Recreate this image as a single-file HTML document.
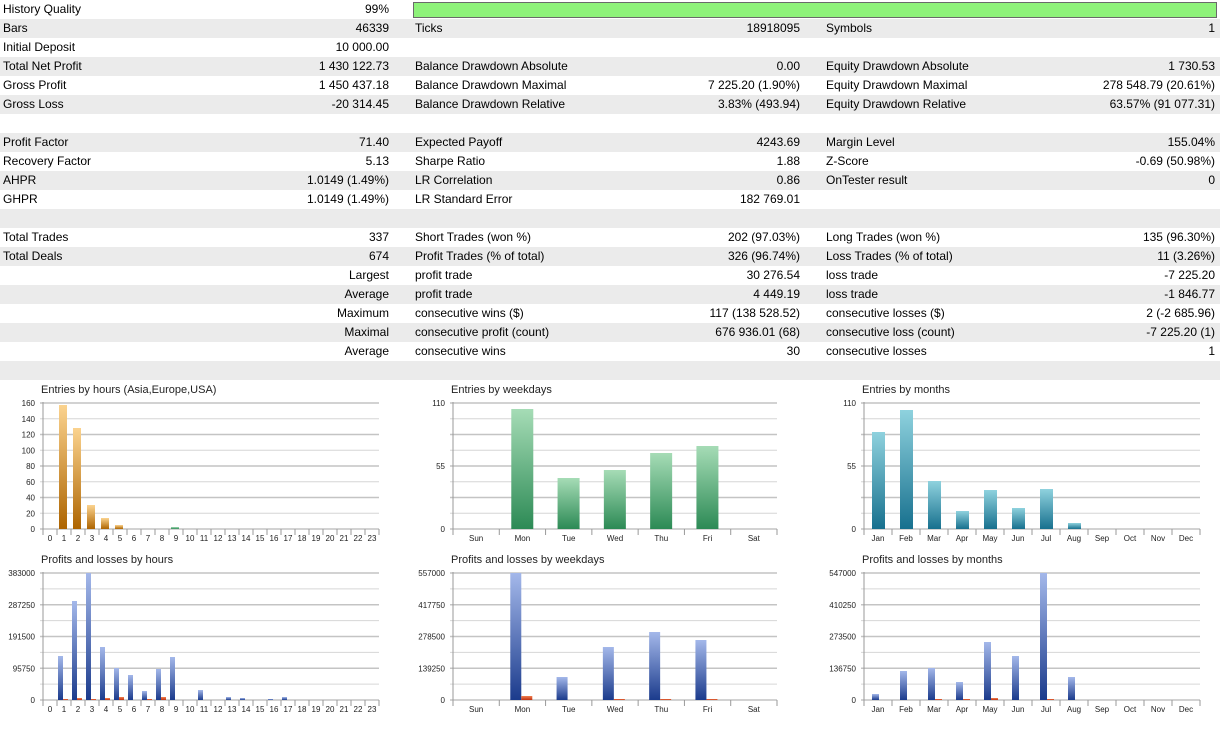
<!DOCTYPE html>
<html><head><meta charset="utf-8"><style>
body{margin:0;width:1220px;height:733px;background:#fff;font-family:"Liberation Sans",sans-serif;font-size:12px;color:#000;overflow:hidden;position:relative}
table{border-collapse:collapse;width:1220px;position:absolute;top:0;left:0}
td{height:19px;padding:0;white-space:nowrap;line-height:19px}
tr:nth-child(even){background:#ebebeb}
.l1{padding-left:3px;width:200px}.v1{text-align:right;width:186px;padding-right:2px}
.l2{padding-left:24px;width:200px}.v2{text-align:right;width:185px}
.l3{padding-left:26px;width:200px}.v3{text-align:right;padding-right:5px}
.hq{position:absolute;left:413px;top:2px;width:802px;height:14px;background:#8ef27a;border:1px solid #6a6a6a}
svg{position:absolute;left:0;top:0}
</style></head><body>
<table>
<tr><td class="l1">History Quality</td><td class="v1">99%</td><td colspan="4"></td></tr>
<tr><td class="l1">Bars</td><td class="v1">46339</td><td class="l2">Ticks</td><td class="v2">18918095</td><td class="l3">Symbols</td><td class="v3">1</td></tr>
<tr><td class="l1">Initial Deposit</td><td class="v1">10 000.00</td><td></td><td></td><td></td><td></td></tr>
<tr><td class="l1">Total Net Profit</td><td class="v1">1 430 122.73</td><td class="l2">Balance Drawdown Absolute</td><td class="v2">0.00</td><td class="l3">Equity Drawdown Absolute</td><td class="v3">1 730.53</td></tr>
<tr><td class="l1">Gross Profit</td><td class="v1">1 450 437.18</td><td class="l2">Balance Drawdown Maximal</td><td class="v2">7 225.20 (1.90%)</td><td class="l3">Equity Drawdown Maximal</td><td class="v3">278 548.79 (20.61%)</td></tr>
<tr><td class="l1">Gross Loss</td><td class="v1">-20 314.45</td><td class="l2">Balance Drawdown Relative</td><td class="v2">3.83% (493.94)</td><td class="l3">Equity Drawdown Relative</td><td class="v3">63.57% (91 077.31)</td></tr>
<tr><td colspan="6"></td></tr>
<tr><td class="l1">Profit Factor</td><td class="v1">71.40</td><td class="l2">Expected Payoff</td><td class="v2">4243.69</td><td class="l3">Margin Level</td><td class="v3">155.04%</td></tr>
<tr><td class="l1">Recovery Factor</td><td class="v1">5.13</td><td class="l2">Sharpe Ratio</td><td class="v2">1.88</td><td class="l3">Z-Score</td><td class="v3">-0.69 (50.98%)</td></tr>
<tr><td class="l1">AHPR</td><td class="v1">1.0149 (1.49%)</td><td class="l2">LR Correlation</td><td class="v2">0.86</td><td class="l3">OnTester result</td><td class="v3">0</td></tr>
<tr><td class="l1">GHPR</td><td class="v1">1.0149 (1.49%)</td><td class="l2">LR Standard Error</td><td class="v2">182 769.01</td><td></td><td></td></tr>
<tr><td colspan="6"></td></tr>
<tr><td class="l1">Total Trades</td><td class="v1">337</td><td class="l2">Short Trades (won %)</td><td class="v2">202 (97.03%)</td><td class="l3">Long Trades (won %)</td><td class="v3">135 (96.30%)</td></tr>
<tr><td class="l1">Total Deals</td><td class="v1">674</td><td class="l2">Profit Trades (% of total)</td><td class="v2">326 (96.74%)</td><td class="l3">Loss Trades (% of total)</td><td class="v3">11 (3.26%)</td></tr>
<tr><td class="l1"></td><td class="v1">Largest</td><td class="l2">profit trade</td><td class="v2">30 276.54</td><td class="l3">loss trade</td><td class="v3">-7 225.20</td></tr>
<tr><td class="l1"></td><td class="v1">Average</td><td class="l2">profit trade</td><td class="v2">4 449.19</td><td class="l3">loss trade</td><td class="v3">-1 846.77</td></tr>
<tr><td class="l1"></td><td class="v1">Maximum</td><td class="l2">consecutive wins ($)</td><td class="v2">117 (138 528.52)</td><td class="l3">consecutive losses ($)</td><td class="v3">2 (-2 685.96)</td></tr>
<tr><td class="l1"></td><td class="v1">Maximal</td><td class="l2">consecutive profit (count)</td><td class="v2">676 936.01 (68)</td><td class="l3">consecutive loss (count)</td><td class="v3">-7 225.20 (1)</td></tr>
<tr><td class="l1"></td><td class="v1">Average</td><td class="l2">consecutive wins</td><td class="v2">30</td><td class="l3">consecutive losses</td><td class="v3">1</td></tr>
<tr><td colspan="6"></td></tr>
</table>
<div class="hq"></div>
<svg id="s" width="1220" height="733" xmlns="http://www.w3.org/2000/svg">
<defs>
<linearGradient id="go" x1="0" y1="0" x2="0" y2="1"><stop offset="0" stop-color="#fbd38f"/><stop offset="1" stop-color="#ad6400"/></linearGradient>
<linearGradient id="gg" x1="0" y1="0" x2="0" y2="1"><stop offset="0" stop-color="#a6dcb6"/><stop offset="1" stop-color="#2c8a55"/></linearGradient>
<linearGradient id="gt" x1="0" y1="0" x2="0" y2="1"><stop offset="0" stop-color="#8fd2de"/><stop offset="1" stop-color="#17708e"/></linearGradient>
<linearGradient id="gb" x1="0" y1="0" x2="0" y2="1"><stop offset="0" stop-color="#a4b8ea"/><stop offset="1" stop-color="#1b3b8c"/></linearGradient>
<linearGradient id="gr" x1="0" y1="0" x2="0" y2="1"><stop offset="0" stop-color="#f08050"/><stop offset="1" stop-color="#c03010"/></linearGradient>
</defs>
</svg>
<script>
var s=document.getElementById('s'),h='';
function t(x,y,str,sz,anchor){h+='<text x="'+x+'" y="'+y+'" font-size="'+sz+'" font-family="Liberation Sans,sans-serif" text-anchor="'+(anchor||'start')+'" fill="#222">'+str+'</text>';}
function chart(o){
 var x0=o.x0,x1=o.x1,top=o.top,bot=o.bot,n=o.cats.length,w=(x1-x0)/n;
 t(o.x0-2,o.top-10,o.title,11);
 for(var i=0;i<=8;i++){var y=bot-(bot-top)*i/8;h+='<line x1="'+(x0-3)+'" x2="'+x1+'" y1="'+y+'" y2="'+y+'" stroke="'+(i%2==0||o.all?'#c4c4c4':'#d6d6d6')+'" stroke-width="'+(i%2==0?1.5:1)+'"/>';}
 o.labels.forEach(function(l,k){var y=bot-(bot-top)*k/(o.labels.length-1);t(x0-8,y+3,l,8,'end');});
 h+='<line x1="'+x0+'" x2="'+x0+'" y1="'+(top-1)+'" y2="'+(bot+6)+'" stroke="#999"/>';
 for(var i=0;i<n;i++){var xs=x0+w*i;h+='<line x1="'+(xs+w)+'" x2="'+(xs+w)+'" y1="'+bot+'" y2="'+(bot+6)+'" stroke="#999"/>';t(xs+w/2,bot+12,o.cats[i],8,'middle');}
 o.bars.forEach(function(b){var xs=x0+w*b[0]+o.off+(b[3]||0),hh=b[1];if(hh>0)h+='<rect x="'+xs+'" y="'+(bot-hh)+'" width="'+o.bw+'" height="'+hh+'" fill="url(#'+b[2]+')" stroke-width="0"/>';});
}
var hrs=[];for(var i=0;i<24;i++)hrs.push(i);
chart({x0:43,x1:379,top:403,bot:529,cats:hrs,title:'Entries by hours (Asia,Europe,USA)',labels:[0,20,40,60,80,100,120,140,160],off:2,bw:8,
 bars:[[1,124,'go'],[2,101,'go'],[3,24,'go'],[4,11,'go'],[5,4,'go'],[9,2,'gg']]});
chart({x0:453,x1:777,top:403,bot:529,cats:['Sun','Mon','Tue','Wed','Thu','Fri','Sat'],title:'Entries by weekdays',labels:[0,55,110],off:12,bw:22,
 bars:[[1,120,'gg'],[2,51,'gg'],[3,59,'gg'],[4,76,'gg'],[5,83,'gg']]});
chart({x0:864,x1:1200,top:403,bot:529,cats:['Jan','Feb','Mar','Apr','May','Jun','Jul','Aug','Sep','Oct','Nov','Dec'],title:'Entries by months',labels:[0,55,110],off:8,bw:13,
 bars:[[0,97,'gt'],[1,119,'gt'],[2,48,'gt'],[3,18,'gt'],[4,39,'gt'],[5,21,'gt'],[6,40,'gt'],[7,6,'gt']]});
var hb=[[1,44],[2,99],[3,127],[4,53],[5,32],[6,25],[7,9],[8,31],[9,43],[11,10],[13,3],[14,2],[16,1],[17,3]],hr=[[1,1],[2,2],[3,1],[4,2],[5,3],[7,1],[8,3]],bb=[];
hb.forEach(function(b){bb.push([b[0],b[1],'gb',0]);});hr.forEach(function(b){bb.push([b[0],b[1],'gr',5]);});
chart({x0:43,x1:379,top:573,bot:700,cats:hrs,title:'Profits and losses by hours',labels:[0,95750,191500,287250,383000],off:1,bw:5,bars:bb});
chart({x0:453,x1:777,top:573,bot:700,cats:['Sun','Mon','Tue','Wed','Thu','Fri','Sat'],title:'Profits and losses by weekdays',labels:[0,139250,278500,417750,557000],off:11,bw:11,
 bars:[[1,127,'gb',0],[1,4,'gr',11],[2,23,'gb',0],[3,53,'gb',0],[3,1,'gr',11],[4,68,'gb',0],[4,1,'gr',11],[5,60,'gb',0],[5,1,'gr',11]]});
chart({x0:864,x1:1200,top:573,bot:700,cats:['Jan','Feb','Mar','Apr','May','Jun','Jul','Aug','Sep','Oct','Nov','Dec'],title:'Profits and losses by months',labels:[0,136750,273500,410250,547000],off:8,bw:7,
 bars:[[0,6,'gb',0],[1,29,'gb',0],[2,32,'gb',0],[2,1,'gr',7],[3,18,'gb',0],[3,1,'gr',7],[4,58,'gb',0],[4,2,'gr',7],[5,44,'gb',0],[6,127,'gb',0],[6,1,'gr',7],[7,23,'gb',0]]});
s.insertAdjacentHTML('beforeend',h);
</script>
</body></html>
